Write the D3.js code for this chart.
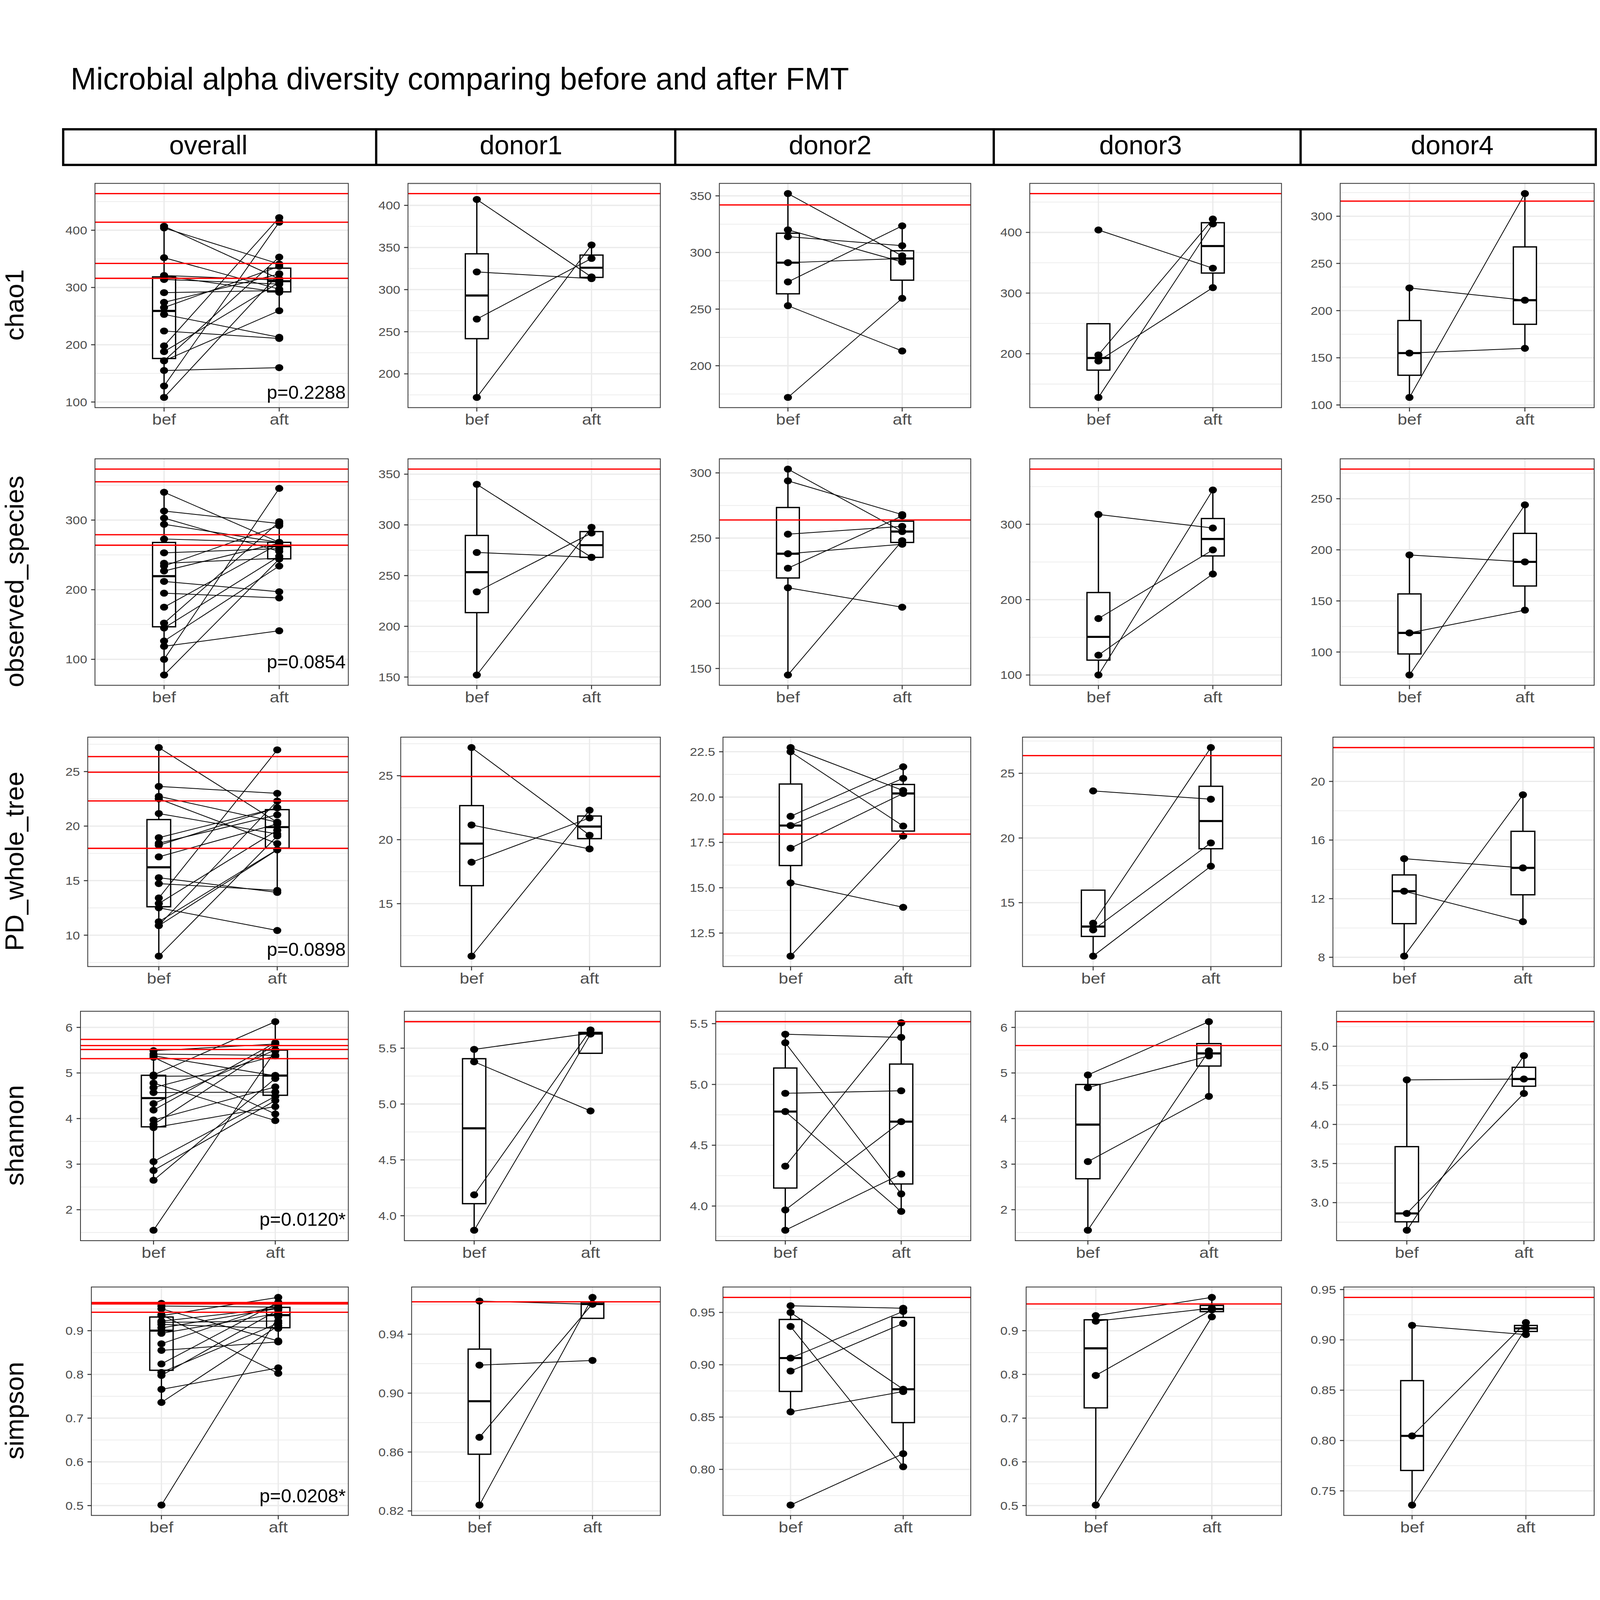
<!DOCTYPE html>
<html><head><meta charset="utf-8">
<script src="https://cdn.jsdelivr.net/npm/d3@7"></script>
<style>
html,body{margin:0;padding:0;width:100%;height:100%;overflow:hidden;background:#fff}
svg{display:block;background:#fff;width:100vw;height:100vh}
</style>
</head><body>
<svg id="chart" viewBox="0 0 4938 4562" preserveAspectRatio="xMidYMid meet"></svg>
<script>
// ---------------- DATA ----------------
const title = "Microbial alpha diversity comparing before and after FMT";
const metrics = ["chao1", "observed_species", "PD_whole_tree", "shannon", "simpson"];
const panelNames = ["overall", "donor1", "donor2", "donor3", "donor4"];
const groups = ["bef", "aft"];
const pValues = ["p=0.2288", "p=0.0854", "p=0.0898", "p=0.0120*", "p=0.0208*"];

// paired values per donor (same index = same subject), before / after FMT
const chao1Bef = [[407, 321, 265, 172], [352, 320, 314, 291, 274, 253, 172], [404, 198, 188, 128], [224, 155, 108]];
const chao1Aft = [[315, 313, 337, 353], [297, 291.6, 306, 294.7, 323.5, 213, 259.5], [341, 422, 309, 414], [211, 160, 324]];
const chao1Donor = [414, 342, 464, 316];

const observedBef = [[340, 272.8, 234, 152], [302.9, 293.9, 253, 238, 226.9, 211.9, 145], [313, 174.9, 126.3, 100], [195, 118.7, 77.5]];
const observedAft = [[268, 268, 292, 297.6], [255, 268, 259, 245.3, 267, 197, 248], [295, 266, 234, 345.5], [188.2, 141, 244]];
const observedDonor = [355, 263.9, 373.2, 279];

const pdBef = [[27.2, 21.15, 18.24, 10.9], [22.73, 22.5, 18.94, 18.43, 17.18, 15.27, 11.23], [23.64, 13.41, 12.9, 10.87], [14.73, 12.51, 8.08]];
const pdAft = [[20.35, 19.28, 21.7, 22.3], [20.36, 18.4, 21.67, 21.03, 20.2, 13.92, 17.85], [23.0, 26.99, 19.62, 17.82], [14.1, 10.43, 19.09]];
const pdDonor = [24.94, 17.96, 26.37, 22.31];

const shannonBef = [[5.489, 5.378, 4.187, 3.87], [5.413, 5.343, 4.927, 4.777, 4.328, 3.968, 3.801], [4.956, 4.678, 3.056, 1.55], [4.57, 2.862, 2.647]];
const shannonAft = [[5.634, 4.938, 5.663, 5.626], [5.387, 4.10, 4.948, 3.956, 5.507, 4.694, 4.263], [6.125, 5.374, 4.487, 5.484], [4.581, 4.396, 4.88]];
const shannonDonor = [5.737, 5.516, 5.601, 5.314];

const simpsonBef = [[0.9625, 0.919, 0.870, 0.824], [0.9564, 0.950, 0.9366, 0.9064, 0.894, 0.855, 0.7659], [0.9345, 0.9218, 0.7976, 0.5012], [0.9144, 0.8046, 0.7359]];
const simpsonAft = [[0.9603, 0.9222, 0.9607, 0.965], [0.954, 0.8766, 0.8025, 0.951, 0.9395, 0.8744, 0.815], [0.9762, 0.9516, 0.9476, 0.9317], [0.9053, 0.9172, 0.9114]];
const simpsonDonor = [0.962, 0.9644, 0.9611, 0.9422];

// tick labels per panel (overall, donor1..donor4)
const chao1Ticks = [["100","200","300","400"], ["200","250","300","350","400"], ["200","250","300","350"], ["200","300","400"], ["100","150","200","250","300"]];
const observedTicks = [["100","200","300"], ["150","200","250","300","350"], ["150","200","250","300"], ["100","200","300"], ["100","150","200","250"]];
const pdTicks = [["10","15","20","25"], ["15","20","25"], ["12.5","15.0","17.5","20.0","22.5"], ["15","20","25"], ["8","12","16","20"]];
const shannonTicks = [["2","3","4","5","6"], ["4.0","4.5","5.0","5.5"], ["4.0","4.5","5.0","5.5"], ["2","3","4","5","6"], ["3.0","3.5","4.0","4.5","5.0"]];
const simpsonTicks = [["0.5","0.6","0.7","0.8","0.9"], ["0.82","0.86","0.90","0.94"], ["0.80","0.85","0.90","0.95"], ["0.5","0.6","0.7","0.8","0.9"], ["0.75","0.80","0.85","0.90","0.95"]];

const metricTable = [
  {bef: chao1Bef, aft: chao1Aft, ref: chao1Donor, ticks: chao1Ticks},
  {bef: observedBef, aft: observedAft, ref: observedDonor, ticks: observedTicks},
  {bef: pdBef, aft: pdAft, ref: pdDonor, ticks: pdTicks},
  {bef: shannonBef, aft: shannonAft, ref: shannonDonor, ticks: shannonTicks},
  {bef: simpsonBef, aft: simpsonAft, ref: simpsonDonor, ticks: simpsonTicks}
];

// ---------------- LAYOUT ----------------
const FONT = '"Liberation Sans", Arial, Helvetica, sans-serif';
const labelStart = [201, 1167, 2128, 3086, 4044];
const plotRight = [1075, 2038, 2996, 3955, 4920];
const rowTop = [378, 1228, 2087, 2933, 3784];
const rowBottom = [1070, 1927, 2795, 3641, 4489];
const pOffset = [27, 52, 33, 46, 40];
const stripBox = {x: 195, y: 211, w: 4730, h: 110};
const stripDividers = [1161, 2084, 3067, 4014];
const stripCenters = [643, 1608, 2562, 3520, 4482];

const TICK_FS = 35, XLAB_FS = 46, P_FS = 58, SX = 1.15;
const GRID = "#EBEBEB", AXIS = "#333333", TXT = "#4D4D4D";

const svg = d3.select("#chart").style("font-family", FONT);

const measurer = svg.append("text").attr("font-size", TICK_FS).style("font-family", FONT);
function textWidth(s) { measurer.text(s); return measurer.node().getComputedTextLength() * SX; }

// horizontally stretched text (panel texts in the reference are slightly widened)
function wideText(parent, x, y, str, size, anchor, fill, dy) {
  return parent.append("text")
    .attr("transform", `translate(${x},${y}) scale(${SX},1)`)
    .attr("text-anchor", anchor).attr("dy", dy || 0)
    .attr("font-size", size).attr("fill", fill).text(str);
}

// title
svg.append("text").attr("x", 218).attr("y", 88).attr("font-size", 95).attr("fill", "#000").text(title);

// strip header
svg.append("rect").attr("x", stripBox.x).attr("y", stripBox.y).attr("width", stripBox.w).attr("height", stripBox.h)
  .attr("fill", "#fff").attr("stroke", "#000").attr("stroke-width", 7);
stripDividers.forEach(x => svg.append("line").attr("x1", x).attr("x2", x).attr("y1", stripBox.y).attr("y2", stripBox.y + stripBox.h)
  .attr("stroke", "#000").attr("stroke-width", 7));
panelNames.forEach((n, i) => svg.append("text").attr("x", stripCenters[i]).attr("y", 288).attr("text-anchor", "middle")
  .attr("font-size", 82).attr("fill", "#000").text(n));

function boxStats(v) {
  const s = v.slice().sort(d3.ascending);
  const q1 = d3.quantileSorted(s, 0.25), med = d3.quantileSorted(s, 0.5), q3 = d3.quantileSorted(s, 0.75);
  const iqr = q3 - q1;
  const lo = d3.min(s.filter(d => d >= q1 - 1.5 * iqr));
  const hi = d3.max(s.filter(d => d <= q3 + 1.5 * iqr));
  return {q1, med, q3, lo, hi};
}

function drawPanel(r, c) {
  const m = metricTable[r];
  let bef, aft, refs;
  if (c === 0) { bef = m.bef.flat(); aft = m.aft.flat(); refs = m.ref; }
  else { bef = m.bef[c - 1]; aft = m.aft[c - 1]; refs = [m.ref[c - 1]]; }
  const tickLabels = m.ticks[c];
  const tickVals = tickLabels.map(Number);

  const maxW = d3.max(tickLabels, textWidth);
  const left = labelStart[c] + maxW + 25, right = plotRight[c];
  const top = rowTop[r], bottom = rowBottom[r];

  const all = bef.concat(aft, refs);
  const [mn, mx] = d3.extent(all);
  const pad = 0.05 * (mx - mn);
  const y = d3.scaleLinear().domain([mn - pad, mx + pad]).range([bottom, top]);
  const x = d3.scalePoint().domain(groups).range([left, right]).padding(0.6);
  const step = x.step();
  const bw = 0.2 * step;

  const g = svg.append("g");
  g.append("rect").attr("x", left).attr("y", top).attr("width", right - left).attr("height", bottom - top).attr("fill", "#fff");

  // minor grid
  const st = tickVals[1] - tickVals[0];
  const ext = [tickVals[0] - st].concat(tickVals, [tickVals[tickVals.length - 1] + st]);
  const minors = d3.pairs(ext).map(([a, b]) => (a + b) / 2).filter(v => v > y.domain()[0] && v < y.domain()[1]);
  g.selectAll(".minor").data(minors).join("line")
    .attr("x1", left).attr("x2", right).attr("y1", d => y(d)).attr("y2", d => y(d))
    .attr("stroke", GRID).attr("stroke-width", 2.2);
  // major grid
  g.selectAll(".majy").data(tickVals).join("line")
    .attr("x1", left).attr("x2", right).attr("y1", d => y(d)).attr("y2", d => y(d))
    .attr("stroke", GRID).attr("stroke-width", 4);
  g.selectAll(".majx").data(groups).join("line")
    .attr("x1", d => x(d)).attr("x2", d => x(d)).attr("y1", top).attr("y2", bottom)
    .attr("stroke", GRID).attr("stroke-width", 4);

  // boxplots
  [[bef, "bef"], [aft, "aft"]].forEach(([vals, grp]) => {
    const s = boxStats(vals);
    const cx = x(grp);
    g.append("line").attr("x1", cx).attr("x2", cx).attr("y1", y(s.q3)).attr("y2", y(s.hi)).attr("stroke", "#000").attr("stroke-width", 4);
    g.append("line").attr("x1", cx).attr("x2", cx).attr("y1", y(s.q1)).attr("y2", y(s.lo)).attr("stroke", "#000").attr("stroke-width", 4);
    g.append("rect").attr("x", cx - bw / 2).attr("width", bw).attr("y", y(s.q3)).attr("height", y(s.q1) - y(s.q3))
      .attr("fill", "#fff").attr("stroke", "#000").attr("stroke-width", 4);
    g.append("line").attr("x1", cx - bw / 2).attr("x2", cx + bw / 2).attr("y1", y(s.med)).attr("y2", y(s.med))
      .attr("stroke", "#000").attr("stroke-width", 6.5);
  });

  // paired lines
  const pairs = bef.map((b, i) => [b, aft[i]]);
  g.selectAll(".pair").data(pairs).join("line")
    .attr("x1", x("bef")).attr("x2", x("aft")).attr("y1", d => y(d[0])).attr("y2", d => y(d[1]))
    .attr("stroke", "#000").attr("stroke-width", 2.4);

  // points
  const pts = bef.map(v => ["bef", v]).concat(aft.map(v => ["aft", v]));
  g.selectAll(".pt").data(pts).join("ellipse")
    .attr("cx", d => x(d[0])).attr("cy", d => y(d[1])).attr("rx", 12.5).attr("ry", 10.8).attr("fill", "#000");

  // donor reference lines
  g.selectAll(".ref").data(refs).join("line")
    .attr("x1", left).attr("x2", right).attr("y1", d => y(d)).attr("y2", d => y(d))
    .attr("stroke", "#FF0000").attr("stroke-width", 4);

  // border
  g.append("rect").attr("x", left).attr("y", top).attr("width", right - left).attr("height", bottom - top)
    .attr("fill", "none").attr("stroke", AXIS).attr("stroke-width", 2.5);

  // y axis ticks + labels
  tickVals.forEach((v, i) => {
    g.append("line").attr("x1", left - 12).attr("x2", left).attr("y1", y(v)).attr("y2", y(v)).attr("stroke", AXIS).attr("stroke-width", 3);
    wideText(g, left - 24, y(v), tickLabels[i], TICK_FS, "end", TXT, "0.36em");
  });
  // x axis ticks + labels
  groups.forEach(grp => {
    g.append("line").attr("x1", x(grp)).attr("x2", x(grp)).attr("y1", bottom).attr("y2", bottom + 12).attr("stroke", AXIS).attr("stroke-width", 3);
    wideText(g, x(grp), bottom + 53, grp, XLAB_FS, "middle", TXT);
  });

  if (c === 0) {
    g.append("text").attr("x", right - 8).attr("y", bottom - pOffset[r]).attr("text-anchor", "end")
      .attr("font-size", P_FS).attr("fill", "#000").text(pValues[r]);
  }
}

metrics.forEach((name, r) => {
  panelNames.forEach((p, c) => drawPanel(r, c));
  const cy = (rowTop[r] + rowBottom[r]) / 2 + 29;
  svg.append("text").attr("transform", `translate(72,${cy}) rotate(-90)`).attr("text-anchor", "middle")
    .attr("font-size", 81).attr("fill", "#000").text(name);
});

measurer.remove();
</script>
</body></html>
